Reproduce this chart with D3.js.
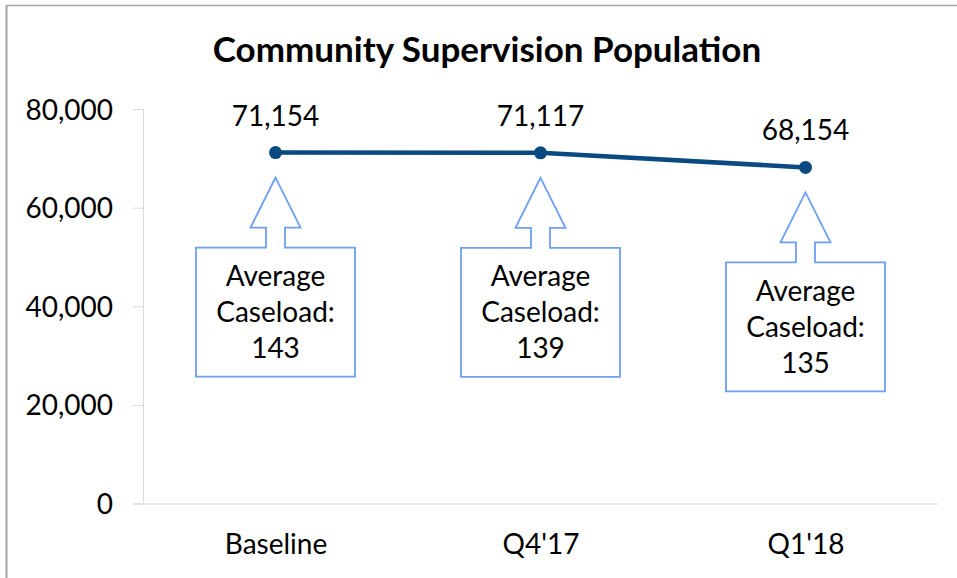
<!DOCTYPE html>
<html>
<head>
<meta charset="utf-8">
<script src="https://cdn.jsdelivr.net/npm/d3@7"></script>
<style>
    html, body { margin: 0; padding: 0; background: #fff; }
    svg text { font-family: Lato, "Open Sans", sans-serif; fill: #000; }
    .axis path, .axis line { stroke: #d9d9d9; }
</style>
</head>
<body>
<svg id="svg" width="957" height="578"></svg>
<script>
var categories = ['Baseline', "Q4'17", "Q1'18"],
    population = [71154, 71117, 68154],
    caseload = [143, 139, 135],
    yTicks = [0, 20000, 40000, 60000, 80000];

var margin = {left: 143, right: 19, top: 109, bottom: 74.5},
    width = 957, height = 578,
    fontSize = 28;

var $svg = d3.select('#svg');

// outer frame (only top and left show in the picture)
$svg.append('line')
    .attr('x1', 6.5).attr('y1', 5.5).attr('x2', width).attr('y2', 5.5)
    .attr('stroke', '#a6a6a6').attr('stroke-width', 1.5);
$svg.append('line')
    .attr('x1', 6.5).attr('y1', 5).attr('x2', 6.5).attr('y2', height)
    .attr('stroke', '#a6a6a6').attr('stroke-width', 2);

$svg.append('text')
    .attr('x', 487)
    .attr('y', 62)
    .attr('text-anchor', 'middle')
    .style('font-weight', 'bold')
    .style('font-size', '35px')
    .text('Community Supervision Population');

var x = d3.scalePoint()
    .domain(categories)
    .range([margin.left, width - margin.right])
    .padding(0.5);

var y = d3.scaleLinear()
    .domain([0, 80000])
    .range([height - margin.bottom, margin.top]);

var $yAxis = $svg.append('g')
    .attr('class', 'axis')
    .attr('transform', 'translate(' + margin.left + ',0)')
    .call(d3.axisLeft(y).tickValues(yTicks).tickFormat(d3.format(',')).tickSize(10).tickPadding(20));
$yAxis.selectAll('path').attr('d', 'M0.5,' + y(80000) + 'V' + y(0));
$yAxis.selectAll('text').style('font-size', fontSize + 'px').attr('dy', '0.36em');
$yAxis.selectAll('line').attr('stroke', '#d9d9d9');

var $xAxis = $svg.append('g')
    .attr('class', 'axis')
    .attr('transform', 'translate(0,' + y(0) + ')')
    .call(d3.axisBottom(x).tickSize(0).tickPadding(42));
$xAxis.selectAll('path').attr('d', 'M' + (margin.left - 10) + ',0.5H' + (width - margin.right));
$xAxis.selectAll('text').style('font-size', fontSize + 'px').attr('dy', '0.3em');

var line = d3.line()
    .x(function (d, i) { return x(categories[i]); })
    .y(function (d) { return y(d); });

$svg.append('path')
    .datum(population)
    .attr('d', line)
    .attr('fill', 'none')
    .attr('stroke', '#0a4a80')
    .attr('stroke-width', 4.5);

var $points = $svg.append('g')
    .selectAll('g')
    .data(population)
    .join('g')
    .attr('transform', function (d, i) {
        return 'translate(' + x(categories[i]) + ',' + y(d) + ')';
    });

$points.append('circle')
    .attr('r', 6.5)
    .attr('fill', '#0a4a80');

$points.append('text')
    .attr('y', -27)
    .attr('text-anchor', 'middle')
    .style('font-size', fontSize + 'px')
    .text(function (d) { return d3.format(',')(d); });

// up-arrow callouts under each point
var tipGap = 25, headH = 50, headW = 50, stemW = 19, stemH = 20,
    boxW = 159, boxH = 129;

function calloutPath() {
    var t = tipGap, hb = t + headH, bt = hb + stemH, bb = bt + boxH;
    return 'M0,' + t +
        'L' + (headW / 2) + ',' + hb +
        'H' + (stemW / 2) +
        'V' + bt +
        'H' + (boxW / 2) +
        'V' + bb +
        'H' + (-boxW / 2) +
        'V' + bt +
        'H' + (-stemW / 2) +
        'V' + hb +
        'H' + (-headW / 2) + 'Z';
}

$points.append('path')
    .attr('d', calloutPath())
    .attr('fill', '#fff')
    .attr('stroke', '#6d9ef5')
    .attr('stroke-width', 1.8);

var $label = $points.append('text')
    .attr('text-anchor', 'middle')
    .style('font-size', fontSize + 'px');

$label.selectAll('tspan')
    .data(function (d, i) { return ['Average', 'Caseload:', caseload[i]]; })
    .join('tspan')
    .attr('x', 0)
    .attr('y', function (d, j) {
        return tipGap + headH + stemH + boxH / 2 + (j - 1) * 36;
    })
    .attr('dy', '0.36em')
    .text(function (d) { return d; });
</script>
</body>
</html>
